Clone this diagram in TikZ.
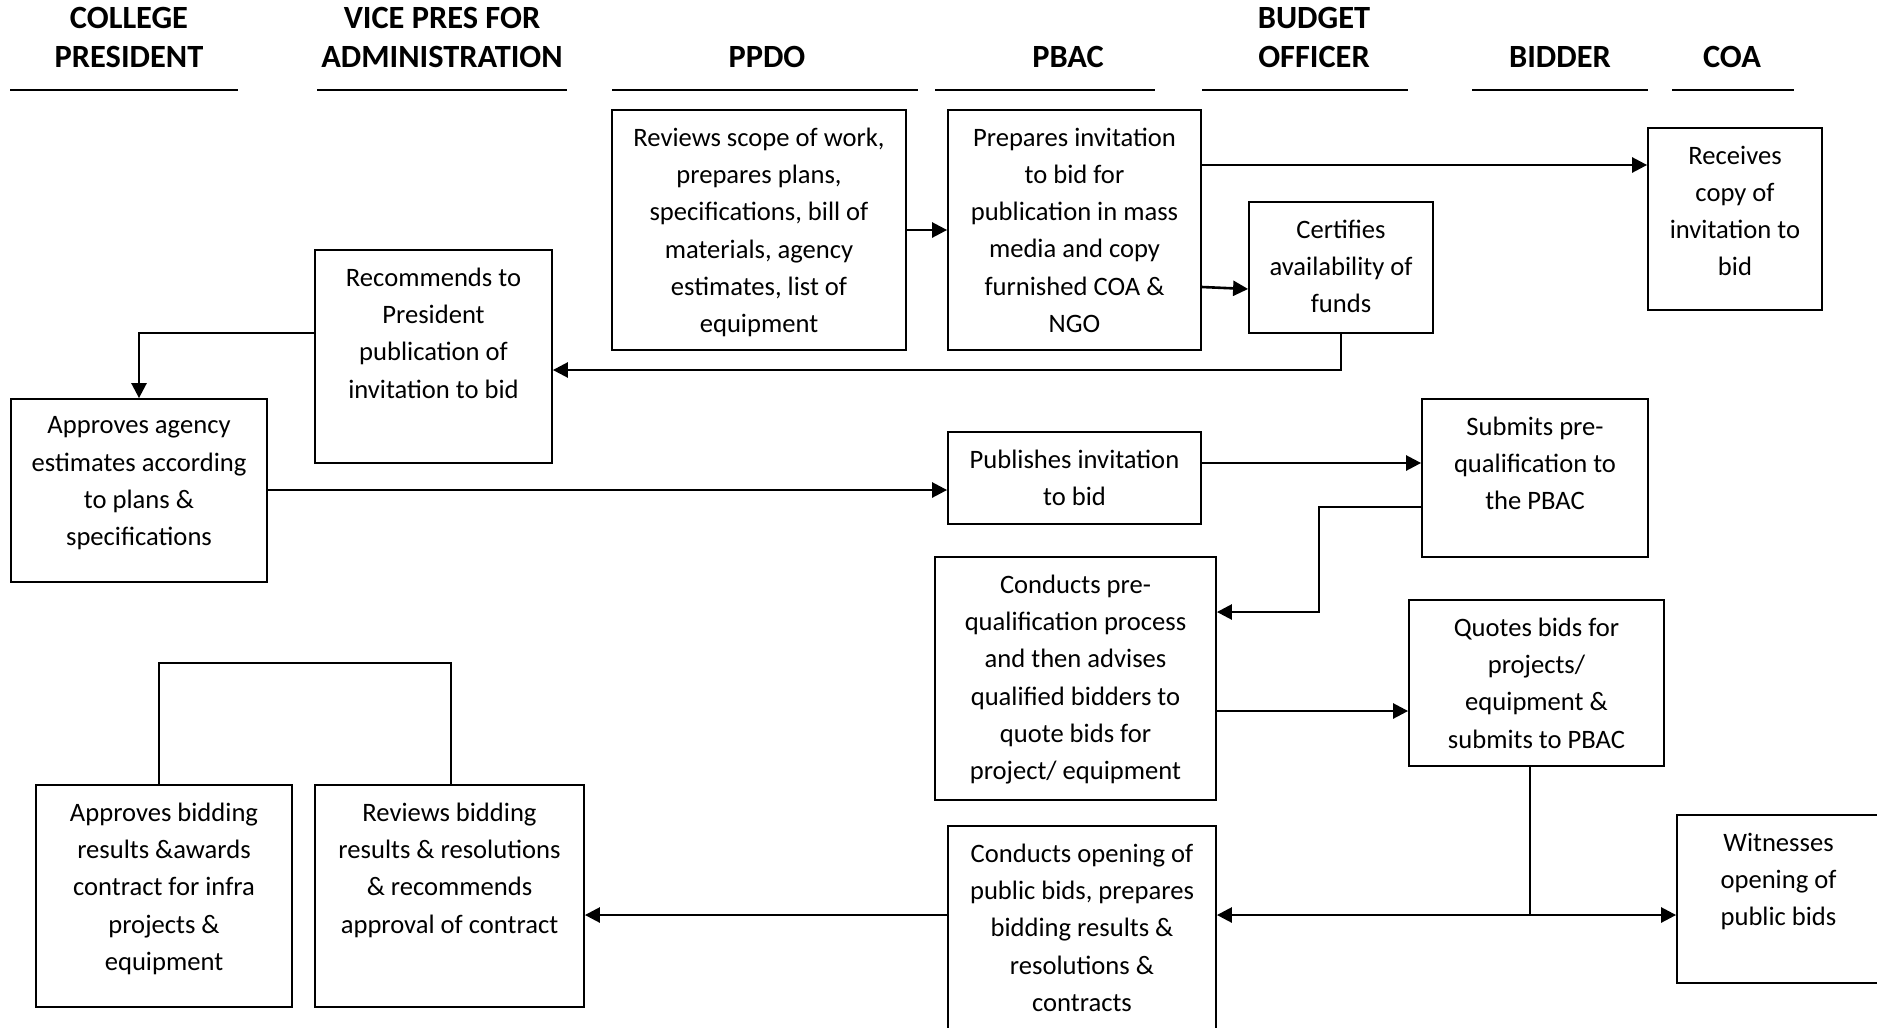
\documentclass[tikz,border=0pt]{standalone}
\usepackage{fontspec}
\setmainfont{Carlito}
\usetikzlibrary{arrows.meta,calc}

\tikzset{
  box/.style={draw, line width=1.8pt, minimum width=#1, inner sep=0pt},
  boxtext/.style={anchor=north, align=center, inner sep=0pt,
    font=\fontsize{26.6}{37.3}\selectfont, execute at begin node=\strut},
  lane/.style={align=center, inner sep=0pt,
    font=\bfseries\fontsize{32.4}{39}\selectfont, execute at begin node=\strut},
  rule/.style={line width=2pt},
  arr/.style={line width=2.6pt, -{Triangle[length=15pt,width=15pt]}},
  link/.style={line width=1.8pt},
}

\begin{document}
\begin{tikzpicture}[x=1pt, y=-1pt]
\useasboundingbox (0,0) rectangle (1877,1028);
\clip (0,0) rectangle (1877,1028);

% swimlane headings
\node[lane, anchor=north] (h-pres) at (129,7) {COLLEGE\\PRESIDENT};
\node[lane, anchor=north] (h-vp) at (442,7) {VICE PRES FOR\\ADMINISTRATION};
\node[lane, anchor=base] (h-ppdo) at (767,67.5) {PPDO};
\node[lane, anchor=base] (h-pbac) at (1068,67.5) {PBAC};
\node[lane, anchor=north] (h-bo) at (1314,7) {BUDGET\\OFFICER};
\node[lane, anchor=base] (h-bid) at (1560,67.5) {BIDDER};
\node[lane, anchor=base] (h-coa) at (1732,67.5) {COA};

\draw[rule] (10,89.5) -- (238,89.5);
\draw[rule] (317,89.5) -- (567,89.5);
\draw[rule] (612,89.5) -- (918,89.5);
\draw[rule] (935,89.5) -- (1155,89.5);
\draw[rule] (1202,89.5) -- (1408,89.5);
\draw[rule] (1472,89.5) -- (1648,89.5);
\draw[rule] (1672,89.5) -- (1794,89.5);

% activity boxes
\node[box=294pt, minimum height=240pt] (ppdo) at (759,230) {};
\node[box=253pt, minimum height=240pt] (pbac1) at (1074.5,230) {};
\node[box=184pt, minimum height=131pt] (budget) at (1341,267.5) {};
\node[box=174pt, minimum height=182pt] (coa) at (1735,219) {};
\node[box=237pt, minimum height=213pt] (vp1) at (433.5,356.5) {};
\node[box=256pt, minimum height=183pt] (pres1) at (139,490.5) {};
\node[box=253pt, minimum height=92pt] (publish) at (1074.5,478) {};
\node[box=226pt, minimum height=158pt] (submit) at (1535,478) {};
\node[box=281pt, minimum height=243pt] (preq) at (1075.5,678.5) {};
\node[box=255pt, minimum height=166pt] (quotes) at (1536.5,683) {};
\node[box=268pt, minimum height=214pt] (opening) at (1082,933) {};
\node[box=203pt, minimum height=168pt] (witness) at (1778.5,899) {};
\node[box=256pt, minimum height=222pt] (pres2) at (164,896) {};
\node[box=269pt, minimum height=222pt] (vp2) at (449.5,896) {};

% box texts
\node[boxtext] (ppdo-t) at ($(ppdo.north)+(0,18.4)$) {Reviews scope of work,\\prepares plans,\\specifications, bill of\\materials, agency\\estimates, list of\\equipment};
\node[boxtext] (pbac1-t) at ($(pbac1.north)+(0,18.4)$) {Prepares invitation\\to bid for\\publication in mass\\media and copy\\furnished COA \&\\NGO};
\node[boxtext] (budget-t) at ($(budget.north)+(0,18.4)$) {Certifies\\availability of\\funds};
\node[boxtext] (coa-t) at ($(coa.north)+(0,18.4)$) {Receives\\copy of\\invitation to\\bid};
\node[boxtext] (vp1-t) at ($(vp1.north)+(0,18.4)$) {Recommends to\\President\\publication of\\invitation to bid};
\node[boxtext] (pres1-t) at ($(pres1.north)+(0,18.4)$) {Approves agency\\estimates according\\to plans \&\\specifications};
\node[boxtext] (publish-t) at ($(publish.north)+(0,18.4)$) {Publishes invitation\\to bid};
\node[boxtext] (submit-t) at ($(submit.north)+(0,18.4)$) {Submits pre-\\qualification to\\the PBAC};
\node[boxtext] (preq-t) at ($(preq.north)+(0,18.4)$) {Conducts pre-\\qualification process\\and then advises\\qualified bidders to\\quote bids for\\project/ equipment};
\node[boxtext] (quotes-t) at ($(quotes.north)+(0,18.4)$) {Quotes bids for\\projects/\\equipment \&\\submits to PBAC};
\node[boxtext] (opening-t) at ($(opening.north)+(0,18.4)$) {Conducts opening of\\public bids, prepares\\bidding results \&\\resolutions \&\\contracts};
\node[boxtext] (witness-t) at ($(witness.north)+(0,18.4)$) {Witnesses\\opening of\\public bids};
\node[boxtext] (pres2-t) at ($(pres2.north)+(0,18.4)$) {Approves bidding\\results \&awards\\contract for infra\\projects \&\\equipment};
\node[boxtext] (vp2-t) at ($(vp2.north)+(0,18.4)$) {Reviews bidding\\results \& resolutions\\\& recommends\\approval of contract};

% flow connectors
\draw[arr] (ppdo) -- (pbac1);
\draw[arr] (pbac1.east |- 0,165) -- (coa.west |- 0,165);
\draw[arr] (pbac1.east |- 0,287) -- (budget.west |- 0,289);
\draw[arr] (budget.south) |- (vp1.east |- 0,370);
\draw[arr] (vp1.west |- 0,333) -| (pres1.north);
\draw[arr] (pres1.east |- 0,490) -- (publish.west |- 0,490);
\draw[arr] (publish.east |- 0,463) -- (submit.west |- 0,463);
\coordinate (sb1) at (1319,507);
\coordinate (sb2) at (1319,612);
\draw[arr] (submit.west |- sb1) -- (sb1) -- (sb2) -- (preq.east |- sb2);
\draw[arr] (preq.east |- 0,711) -- (quotes.west |- 0,711);
\coordinate (qj) at (1530,915);
\draw[link] (quotes.south -| qj) -- (qj);
\draw[arr] (qj) -- (opening.east |- qj);
\draw[arr] (qj) -- (witness.west |- qj);
\draw[arr] (opening.west |- qj) -- (vp2.east |- qj);
\coordinate (br1) at (159,663);
\coordinate (br2) at (451,663);
\draw[link] (pres2.north -| br1) -- (br1) -- (br2) -- (vp2.north -| br2);
\end{tikzpicture}
\end{document}
